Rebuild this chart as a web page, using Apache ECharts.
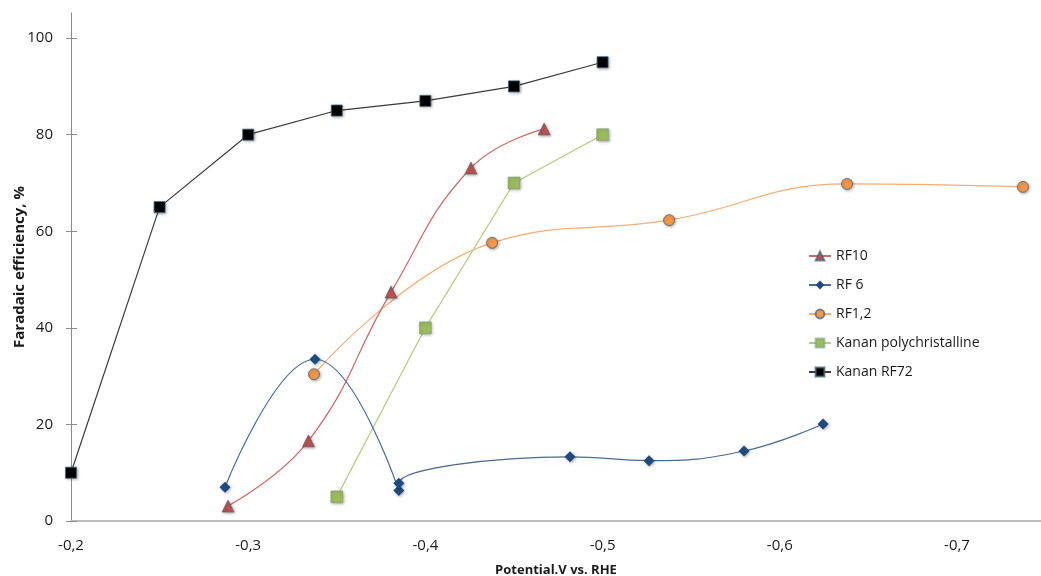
<!DOCTYPE html>
<html>
<head>
<meta charset="utf-8">
<title>Faradaic efficiency vs. potential</title>
<script src="https://cdn.jsdelivr.net/npm/echarts@6/dist/echarts.min.js"></script>
<style>
  html, body { margin: 0; padding: 0; background: #ffffff; }
  #chart { width: 1041px; height: 576px; }
</style>
</head>
<body>
<div id="chart"></div>
<script>
// Potential (V vs. RHE) and Faradaic efficiency (%) for each electrode
const rf10X = [-0.2886, -0.334, -0.3806, -0.4257, -0.467];
const rf10Y = [3.1, 16.6, 47.4, 73.1, 81.2];

const rf6X = [-0.2869, -0.3377, -0.385, -0.385, -0.4816, -0.5262, -0.5798, -0.6244];
const rf6Y = [7.0, 33.5, 6.3, 7.8, 13.3, 12.5, 14.5, 20.1];

const rf12X = [-0.3371, -0.4376, -0.5375, -0.6379, -0.7372];
const rf12Y = [30.4, 57.6, 62.3, 69.8, 69.2];

const kananPolyX = [-0.35, -0.40, -0.45, -0.50];
const kananPolyY = [5, 40, 70, 80];

const kananRF72X = [-0.20, -0.25, -0.30, -0.35, -0.40, -0.45, -0.50];
const kananRF72Y = [10, 65, 80, 85, 87, 90, 95];

const xTicks = [-0.2, -0.3, -0.4, -0.5, -0.6, -0.7];
const yTicks = [0, 20, 40, 60, 80, 100];

const seriesNames = ['RF10', 'RF 6', 'RF1,2', 'Kanan polychristalline', 'Kanan RF72'];

const pairs = (xs, ys) => xs.map((x, i) => [x, ys[i]]);

const FONT = '"Open Sans", "Noto Sans", sans-serif';
const markerEdge = 'rgba(70,100,125,0.75)';
const markerShadow = {
  shadowBlur: 3,
  shadowColor: 'rgba(0,0,0,0.35)',
  shadowOffsetX: 1,
  shadowOffsetY: 1
};

function lineSeries(name, data, opts) {
  return {
    name: name,
    type: 'line',
    data: data,
    smooth: opts.smooth,
    symbol: opts.symbol,
    symbolSize: opts.size,
    showAllSymbol: true,
    lineStyle: { color: opts.line, width: 1.2 },
    itemStyle: Object.assign({
      color: opts.fill,
      borderColor: opts.edge,
      borderWidth: opts.edgeWidth
    }, markerShadow),
    emphasis: { disabled: true },
    z: opts.z
  };
}

const chart = echarts.init(document.getElementById('chart'), null, { renderer: 'canvas' });

chart.setOption({
  animation: false,
  backgroundColor: '#ffffff',
  grid: { left: 71, right: 0, top: 13, bottom: 55, containLabel: false, outerBoundsMode: 'none' },
  legend: {
    orient: 'vertical',
    left: 803,
    top: 244,
    itemWidth: 22,
    itemHeight: 11,
    itemGap: 15,
    data: seriesNames,
    textStyle: { fontFamily: FONT, fontSize: 14, lineHeight: 14, color: '#1a1a1a' }
  },
  xAxis: {
    type: 'value',
    inverse: true,
    min: -0.7474,
    max: -0.2,
    name: 'Potential.V vs. RHE',
    nameLocation: 'middle',
    nameGap: 43,
    nameMoveOverlap: false,
    nameTextStyle: { fontFamily: FONT, fontSize: 13, fontWeight: 'bold', color: '#1a1a1a' },
    axisLine: { show: true, onZero: false, lineStyle: { color: '#bdbdbd', width: 2 } },
    axisTick: { show: false },
    splitLine: { show: false },
    axisLabel: {
      customValues: xTicks,
      margin: 17,
      fontFamily: FONT,
      fontSize: 15,
      color: '#1a1a1a',
      formatter: v => v.toFixed(1).replace('.', ',')
    }
  },
  yAxis: [
    {
      type: 'value',
      min: 0,
      max: 105.2,
      name: 'Faradaic efficiency, %',
      nameLocation: 'middle',
      nameGap: 44,
      nameMoveOverlap: false,
      nameTextStyle: { fontFamily: FONT, fontSize: 15, fontWeight: 'bold', color: '#1a1a1a' },
      axisLine: { show: true, lineStyle: { color: '#8c8c8c', width: 1 } },
      axisTick: { show: true, length: 5, customValues: yTicks, lineStyle: { color: '#8c8c8c' } },
      splitLine: { show: false },
      axisLabel: {
        customValues: yTicks,
        margin: 18,
        fontFamily: FONT,
        fontSize: 15,
        color: '#1a1a1a'
      }
    },
    {
      // inner half of the cross ticks on the value axis
      type: 'value',
      min: 0,
      max: 105.2,
      position: 'left',
      offset: 0,
      axisLine: { show: false },
      axisTick: { show: true, inside: true, length: 6, customValues: yTicks, lineStyle: { color: '#8c8c8c' } },
      axisLabel: { show: false },
      splitLine: { show: false }
    }
  ],
  series: [
    lineSeries('RF10', pairs(rf10X, rf10Y), {
      smooth: 0.45, symbol: 'triangle', size: 12, line: '#c86a67',
      fill: '#c0504d', edge: markerEdge, edgeWidth: 0.8, z: 3
    }),
    lineSeries('RF 6', pairs(rf6X, rf6Y), {
      smooth: 0.45, symbol: 'diamond', size: 11, line: '#4a6a93',
      fill: '#1f4a7e', edge: '#1f4a7e', edgeWidth: 0, z: 4
    }),
    lineSeries('RF1,2', pairs(rf12X, rf12Y), {
      smooth: 0.45, symbol: 'circle', size: 11, line: '#f5ad74',
      fill: '#f79646', edge: markerEdge, edgeWidth: 1, z: 2
    }),
    lineSeries('Kanan polychristalline', pairs(kananPolyX, kananPolyY), {
      smooth: false, symbol: 'rect', size: 12, line: '#b3cc7f',
      fill: '#9bbb59', edge: 'rgba(120,160,150,0.6)', edgeWidth: 0.8, z: 2
    }),
    lineSeries('Kanan RF72', pairs(kananRF72X, kananRF72Y), {
      smooth: false, symbol: 'rect', size: 11, line: '#3a3a3a',
      fill: '#000000', edge: 'rgba(70,100,125,0.8)', edgeWidth: 1, z: 5
    })
  ]
});
</script>
</body>
</html>
